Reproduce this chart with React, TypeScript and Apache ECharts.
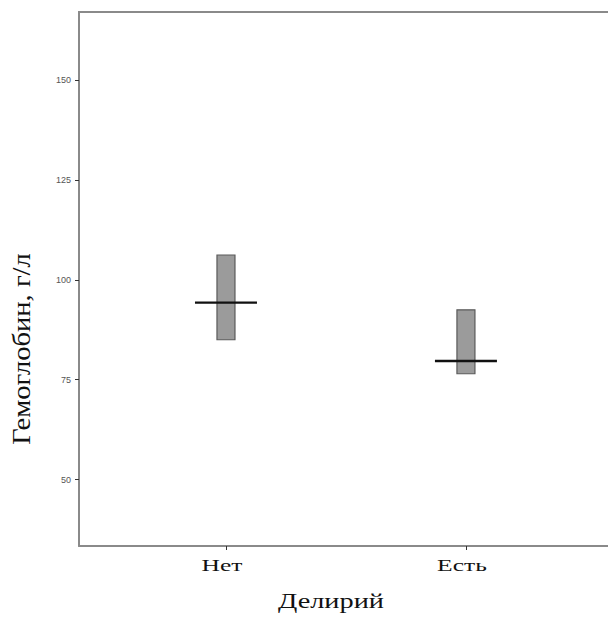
import React, { useEffect, useRef } from "react";
import * as echarts from "echarts";

const categories = ["Нет", "Есть"];
const categoryPositions = [1, 2];
const q1Values = [85, 76.5];
const medianValues = [94.3, 79.7];
const q3Values = [106.2, 92.5];
const yTicks = [50, 75, 100, 125, 150];
const yTitle = "Гемоглобин, г/л";
const xTitle = "Делирий";

export default function App() {
  const ref = useRef<HTMLDivElement>(null);
  useEffect(() => {
    if (!ref.current) return;
    const chart = echarts.init(ref.current, null, { renderer: "svg" });
    const boxData = categoryPositions.map((x, i) => [x, q1Values[i], q3Values[i]]);
    const medianData = categoryPositions.map((x, i) => [x, medianValues[i]]);
    const xMin = 0.3875;
    const xMax = 2.592;
    const yMin = 33.4;
    const yMax = 167;
    const option: any = {
      animation: false,
      grid: { left: 79, top: 12, right: 0, height: 534 },
      xAxis: {
        type: "value",
        min: xMin,
        max: xMax,
        axisLine: { show: true, onZero: false, lineStyle: { color: "#8a8a8a", width: 2 } },
        axisTick: { show: true, length: 4, customValues: categoryPositions, lineStyle: { color: "#333", width: 1 } },
        axisLabel: { show: false },
        splitLine: { show: false },
      },
      yAxis: {
        type: "value",
        min: yMin,
        max: yMax,
        axisLine: { show: true, onZero: false, lineStyle: { color: "#8a8a8a", width: 2 } },
        axisTick: { show: true, length: 4, customValues: yTicks, lineStyle: { color: "#333", width: 1 } },
        axisLabel: {
          show: true,
          customValues: yTicks,
          fontSize: 9,
          fontFamily: "Liberation Sans",
          color: "#555",
          margin: 8,
        },
        splitLine: { show: false },
      },
      series: [
        {
          type: "custom",
          data: boxData,
          encode: { x: 0, y: [1, 2] },
          renderItem: (params: any, api: any) => {
            const x = api.value(0);
            const lo = api.coord([x, api.value(1)]);
            const hi = api.coord([x, api.value(2)]);
            const bw = 18;
            return {
              type: "rect",
              shape: { x: lo[0] - bw / 2, y: hi[1], width: bw, height: lo[1] - hi[1] },
              style: { fill: "#9b9b9b", stroke: "#5a5a5a", lineWidth: 1.2 },
            };
          },
        },
        {
          type: "custom",
          data: medianData,
          encode: { x: 0, y: 1 },
          renderItem: (params: any, api: any) => {
            const med = api.coord([api.value(0), api.value(1)]);
            const mw = 62;
            return {
              type: "line",
              shape: { x1: med[0] - mw / 2, y1: med[1], x2: med[0] + mw / 2, y2: med[1] },
              style: { stroke: "#111", lineWidth: 2.4 },
            };
          },
        },
      ],
    };
    chart.setOption(option);

    const topLeft = chart.convertToPixel({ gridIndex: 0 }, [xMin, yMax]);
    const topRight = chart.convertToPixel({ gridIndex: 0 }, [xMax, yMax]);
    const bottomRight = chart.convertToPixel({ gridIndex: 0 }, [xMax, yMin]);
    const graphics: any[] = [
      {
        type: "rect",
        z: 100,
        shape: { x: topRight[0] - 6, y: topRight[1] + 2, width: 8, height: bottomRight[1] - topRight[1] - 4 },
        style: { fill: "#ffffff" },
      },
      {
        type: "line",
        z: 101,
        shape: { x1: topLeft[0] - 1, y1: topLeft[1], x2: topRight[0], y2: topRight[1] },
        style: { stroke: "#8a8a8a", lineWidth: 2 },
      },
    ];
    categories.forEach((c, i) => {
      const p = chart.convertToPixel({ gridIndex: 0 }, [categoryPositions[i], yMin]);
      graphics.push({
        type: "text",
        x: p[0] - 4,
        y: 566,
        scaleX: 1.5,
        style: {
          text: c,
          fontSize: 17,
          fontFamily: "Liberation Serif",
          fill: "#111",
          align: "center",
          verticalAlign: "middle",
        },
      });
    });
    graphics.push({
      type: "text",
      x: 331,
      y: 601,
      scaleX: 1.35,
      style: {
        text: xTitle,
        fontSize: 21,
        fontFamily: "Liberation Serif",
        fill: "#111",
        align: "center",
        verticalAlign: "middle",
      },
    });
    graphics.push({
      type: "text",
      x: 22,
      y: 349,
      rotation: Math.PI / 2,
      scaleX: 1.3,
      scaleY: 1.1,
      style: {
        text: yTitle,
        fontSize: 22,
        fontFamily: "Liberation Serif",
        fill: "#111",
        align: "center",
        verticalAlign: "middle",
      },
    });
    chart.setOption({ graphic: graphics });
    return () => chart.dispose();
  }, []);
  return (
    <div
      ref={ref}
      style={{ position: "fixed", left: 0, top: 0, width: 608, height: 619, background: "#fff" }}
    />
  );
}
